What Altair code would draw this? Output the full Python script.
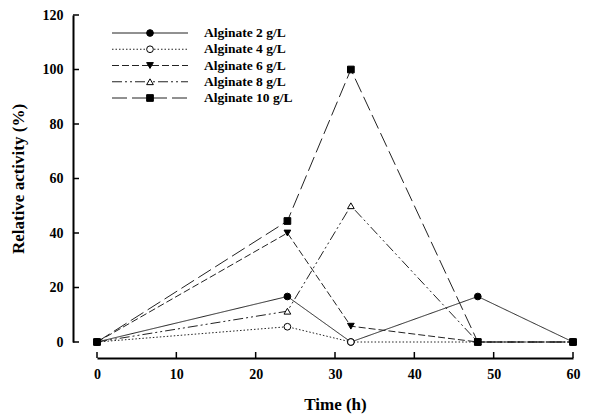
import altair as alt
import pandas as pd

time_h = [0, 24, 32, 48, 60]
series_names = ["Alginate 2 g/L", "Alginate 4 g/L", "Alginate 6 g/L",
                "Alginate 8 g/L", "Alginate 10 g/L"]
alg2 = [0, 16.7, 0, 16.7, 0]
alg4 = [0, 5.6, 0, 0, 0]
alg6 = [0, 40, 5.8, 0, 0]
alg8 = [0, 11.3, 50, 0, 0]
alg10 = [0, 44.4, 100, 0, 0]
x_ticks = [0, 10, 20, 30, 40, 50, 60]
y_ticks = [0, 20, 40, 60, 80, 100, 120]

FONT = "Liberation Serif"
values = [alg2, alg4, alg6, alg8, alg10]
rows = []
for name, vals in zip(series_names, values):
    for t, v in zip(time_h, vals):
        rows.append({"series": name, "time": t, "value": v})
df = pd.DataFrame(rows)
legend_df = pd.DataFrame({"series": series_names})

shape_scale = alt.Scale(domain=series_names,
                        range=["circle", "circle", "triangle-down", "triangle-up", "square"])
fill_scale = alt.Scale(domain=series_names,
                       range=["black", "white", "black", "white", "black"])
dash_scale = alt.Scale(domain=series_names,
                       range=[[1, 0], [1.5, 2], [7, 3], [10, 3, 2, 3, 2, 3], [15, 5]])

xs = alt.X("time:Q", scale=alt.Scale(domain=[0, 60], nice=False),
           axis=alt.Axis(values=x_ticks, title="Time (h)", offset=16, ticks=False, tickSize=0,
                         grid=False, labelPadding=9, titlePadding=15, labelFlush=False))
ys = alt.Y("value:Q", scale=alt.Scale(domain=[0, 120], nice=False),
           axis=alt.Axis(values=y_ticks, title="Relative activity (%)", offset=24, ticks=False,
                         tickSize=0, grid=False, labelPadding=10, titlePadding=15, labelFlush=False))

lines = alt.Chart(df).mark_line(color="#222", strokeWidth=1).encode(
    x=xs, y=ys,
    strokeDash=alt.StrokeDash("series:N", scale=dash_scale, legend=None),
    detail="series:N",
)
points = alt.Chart(df).mark_point(filled=True, stroke="black", strokeWidth=1, opacity=1, size=45).encode(
    x=xs, y=ys,
    shape=alt.Shape("series:N", scale=shape_scale, legend=None),
    fill=alt.Fill("series:N", scale=fill_scale, legend=None),
)
ytick_df = pd.DataFrame({"v": y_ticks})
xtick_df = pd.DataFrame({"t": x_ticks})
yticks = alt.Chart(ytick_df).mark_rule(color="black", strokeWidth=1.5).encode(
    y=alt.Y("v:Q"), x=alt.value(-24), x2=alt.value(-18))
xticks = alt.Chart(xtick_df).mark_rule(color="black", strokeWidth=1.5).encode(
    x=alt.X("t:Q"), y=alt.value(343), y2=alt.value(337))

main = alt.layer(lines, points, yticks, xticks)

ly = alt.Y("series:N", scale=alt.Scale(type="point", domain=series_names, range=[18, 83], padding=0),
           axis=None)
lrule = alt.Chart(legend_df).mark_rule(color="#222", strokeWidth=1).encode(
    y=ly, x=alt.value(15), x2=alt.value(91),
    strokeDash=alt.StrokeDash("series:N", scale=dash_scale, legend=None))
lpts = alt.Chart(legend_df).mark_point(filled=True, stroke="black", strokeWidth=1, opacity=1, size=45).encode(
    y=ly, x=alt.value(53),
    shape=alt.Shape("series:N", scale=shape_scale, legend=None),
    fill=alt.Fill("series:N", scale=fill_scale, legend=None))
ltext = alt.Chart(legend_df).mark_text(align="left", baseline="middle", font=FONT,
                                       fontWeight="bold", fontSize=13.5, color="black").encode(
    y=ly, x=alt.value(107), text="series:N")
legend = alt.layer(lrule, lpts, ltext)

chart = alt.layer(main, legend).resolve_scale(y="independent").properties(
    width=476, height=327,
    autosize=alt.AutoSizeParams(type="none"),
    padding={"left": 97, "top": 15, "right": 17, "bottom": 75},
    background="white",
).configure_view(stroke=None).configure_axis(
    domainColor="black", domainWidth=2,
    labelFont=FONT, labelFontWeight="bold", labelFontSize=14, labelColor="black",
    titleFont=FONT, titleFontWeight="bold", titleFontSize=17, titleColor="black",
)

chart.save("out.html", embed_options={"renderer": "svg", "actions": False})
